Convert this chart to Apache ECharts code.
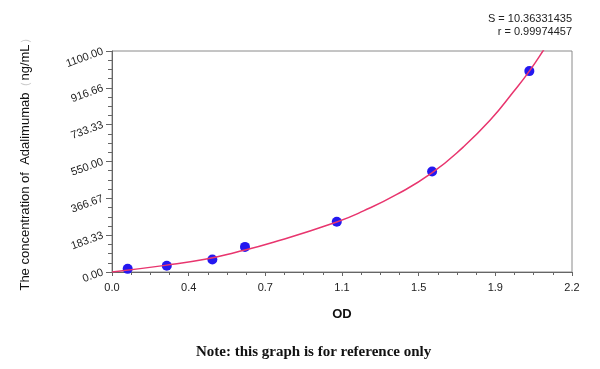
<!DOCTYPE html>
<html>
<head>
<meta charset="utf-8">
<script src="https://cdn.jsdelivr.net/npm/echarts@6/dist/echarts.min.js"></script>
<style>html,body{margin:0;padding:0;background:#fff}#c{width:600px;height:369px}</style>
</head>
<body>
<div id="c"></div>
<script>
// Standard points (OD, concentration ng/mL)
const odValues = [0.075, 0.262, 0.480, 0.636, 1.075, 1.531, 1.996];
const concValues = [15.6, 31.25, 62.5, 125, 250, 500, 1000];
// Fitted curve
const curveOD = [0, 0.254, 0.445, 0.589, 0.772, 1.075, 1.203, 1.362, 1.530, 1.681, 1.809, 1.920, 1.996, 2.064, 2.09];
const curveConc = [0, 33, 63, 97, 148, 249, 304, 386, 493, 623, 756, 897, 1000, 1105, 1150];
const xTickLabels = ['0.0', '0.4', '0.7', '1.1', '1.5', '1.9', '2.2'];
const yTickLabels = ['0.00', '183.33', '366.67', '550.00', '733.33', '916.66', '1100.00'];
const statS = 'S = 10.36331435';
const statR = 'r = 0.99974457';

const xMax = 2.2, yMax = 1100;
const xInt = xMax / 6, yInt = yMax / 6;

const chart = echarts.init(document.getElementById('c'));
chart.setOption({
  animation: false,
  backgroundColor: '#fff',
  grid: { left: 112, right: 28, top: 51, bottom: 97, show: true, borderColor: '#8a8a8a', borderWidth: 1 },
  xAxis: {
    type: 'value', min: 0, max: xMax, interval: xInt,
    name: 'OD', nameLocation: 'middle', nameGap: 36,
    nameTextStyle: { fontFamily: 'Liberation Sans, Arial, sans-serif', fontWeight: 'bold', fontSize: 13, color: '#111' },
    axisLine: { show: true, lineStyle: { color: '#666', width: 1 } },
    axisTick: { show: true, length: 4, lineStyle: { color: '#666' } },
    minorTick: { show: true, splitNumber: 4, length: 3, lineStyle: { color: '#666' } },
    splitLine: { show: false },
    axisLabel: {
      margin: 10, fontSize: 11, color: '#222', fontFamily: 'Liberation Sans, Arial, sans-serif',
      showMaxLabel: true, showMinLabel: true,
      formatter: v => xTickLabels[Math.round(v / xInt)]
    }
  },
  yAxis: {
    type: 'value', min: 0, max: yMax, interval: yInt,
    name: '{t|The concentration of  Adalimumab}{p|（}{t|ng/mL}{p|）}',
    nameLocation: 'middle', nameGap: 80, nameRotate: 90,
    nameTextStyle: {
      rich: {
        t: { fontFamily: 'Liberation Sans, Arial, sans-serif', fontSize: 13, color: '#111' },
        p: { fontFamily: 'Liberation Sans, sans-serif', fontSize: 12, color: '#ccc' }
      }
    },
    axisLine: { show: true, lineStyle: { color: '#666', width: 1 } },
    axisTick: { show: true, length: 6, lineStyle: { color: '#666' } },
    minorTick: { show: true, splitNumber: 4, length: 4, lineStyle: { color: '#666' } },
    splitLine: { show: false },
    axisLabel: {
      margin: 9, rotate: 20, fontSize: 11, color: '#222', fontFamily: 'Liberation Sans, Arial, sans-serif',
      showMaxLabel: true, showMinLabel: true,
      formatter: v => yTickLabels[Math.round(v / yInt)]
    }
  },
  graphic: [
    { type: 'text', right: 28, top: 13, style: { text: statS, fontSize: 11, fill: '#222', fontFamily: 'Liberation Sans, Arial, sans-serif', textAlign: 'right' } },
    { type: 'text', right: 28, top: 26, style: { text: statR, fontSize: 11, fill: '#222', fontFamily: 'Liberation Sans, Arial, sans-serif', textAlign: 'right' } },
    { type: 'text', left: 196, top: 345, style: { text: 'Note: this graph is for reference only', fontSize: 15, fontWeight: 'bold', fill: '#111', fontFamily: 'Liberation Serif, Times New Roman, serif' } }
  ],
  series: [
    {
      type: 'scatter', z: 2,
      data: odValues.map((x, i) => [x, concValues[i]]),
      symbol: 'circle', symbolSize: 10,
      itemStyle: { color: '#2418f0', opacity: 1 }
    },
    {
      type: 'line', z: 3, clip: true, smooth: 0.5, showSymbol: false, symbol: 'none',
      data: curveOD.map((x, i) => [x, curveConc[i]]),
      lineStyle: { color: '#e8356e', width: 1.5 }
    }
  ]
});
</script>
</body>
</html>
